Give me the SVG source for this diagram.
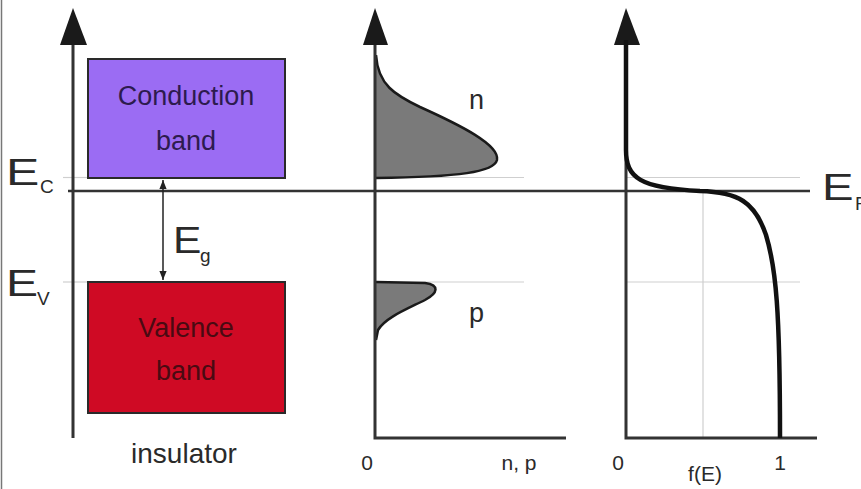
<svg xmlns="http://www.w3.org/2000/svg" width="861" height="489" viewBox="0 0 861 489">
<style>
text{font-family:"Liberation Sans",Arial,sans-serif;fill:#2a2a2a}
.ax{stroke:#333;stroke-width:3;fill:none}
.thin{stroke:#cfcfcf;stroke-width:1.2;fill:none}
.head{fill:#1a1a1a}
.big{font-size:37px}
.sub{font-size:19px}
.lbl{font-size:27px}
.num{font-size:21px}
</style>
<defs>
<marker id="ah" viewBox="0 0 10 10" refX="10" refY="5" markerWidth="9" markerHeight="9" markerUnits="userSpaceOnUse" orient="auto-start-reverse">
<path d="M0,1 L10,5 L0,9 z" fill="#222"/>
</marker>
</defs>
<rect x="0" y="0" width="861" height="489" fill="#fff"/>
<line x1="1.5" y1="0" x2="1.5" y2="489" stroke="#777" stroke-width="1.5"/>

<g id="connectors">
<line class="thin" x1="63" y1="177.5" x2="88" y2="177.5"/>
<line class="thin" x1="63" y1="282" x2="88" y2="282"/>
<line class="thin" x1="376" y1="177.5" x2="524" y2="177.5"/>
<line class="thin" x1="376" y1="282" x2="524" y2="282"/>
<line class="thin" x1="626" y1="177.5" x2="800" y2="177.5"/>
<line class="thin" x1="626" y1="282" x2="800" y2="282"/>
<line class="thin" x1="703" y1="191" x2="703" y2="438"/>
<line x1="68" y1="191" x2="810" y2="191" stroke="#333" stroke-width="2.5"/>
<line x1="163" y1="180" x2="163" y2="280" stroke="#222" stroke-width="1.5" marker-start="url(#ah)" marker-end="url(#ah)"/>
</g>

<g id="axis-left">
<line class="ax" x1="73" y1="40" x2="73" y2="438"/>
<polygon class="head" points="73,8 60,45 87,45"/>
</g>

<g id="conduction-band">
<rect x="88" y="59" width="197" height="119" fill="#9b6cf3" stroke="#2a2a2a" stroke-width="2"/>
<text class="lbl" x="186" y="105" text-anchor="middle" style="fill:#2d1b4e">Conduction</text>
<text class="lbl" x="186" y="150" text-anchor="middle" style="fill:#2d1b4e">band</text>
</g>

<g id="valence-band">
<rect x="88" y="282" width="197" height="131" fill="#cf0a24" stroke="#2a2a2a" stroke-width="2"/>
<text class="lbl" x="186" y="337" text-anchor="middle" style="fill:#4a0a12">Valence</text>
<text class="lbl" x="186" y="380" text-anchor="middle" style="fill:#4a0a12">band</text>
</g>

<g id="label-Ec">
<text class="big" transform="translate(6,185) scale(1.35,1)">E</text>
<text class="sub" x="40" y="193">C</text>
</g>
<g id="label-Ev">
<text class="big" transform="translate(6,296) scale(1.3,1)">E</text>
<text class="sub" x="37" y="305">V</text>
</g>
<g id="label-Eg">
<text class="big" font-size="40" transform="translate(173,253) scale(1.15,1)">E</text>
<text class="sub" x="200" y="262">g</text>
</g>
<g id="label-Ef">
<text class="big" transform="translate(822,200) scale(1.28,1)">E</text>
<text class="sub" x="855" y="210">F</text>
</g>

<g id="insulator-label">
<text x="184" y="463" text-anchor="middle" font-size="28">insulator</text>
</g>

<g id="np-plot">
<path d="M376,55 C378,85 395,95 420,107 C460,125 500,145 497,160 C494,172 460,177 376,178 Z" fill="#7a7a7a"/>
<path d="M376,55 C378,85 395,95 420,107 C460,125 500,145 497,160 C494,172 460,177 376,178" fill="none" stroke="#1a1a1a" stroke-width="2.5"/>
<path d="M376,282 L425,283 C440,285 438,293 425,300 C405,310 385,318 378,330 L376,340 Z" fill="#7a7a7a"/>
<path d="M376,282 L425,283 C440,285 438,293 425,300 C405,310 385,318 378,330 L376,340" fill="none" stroke="#1a1a1a" stroke-width="2.5"/>
<polyline class="ax" points="375,40 375,438 566,438"/>
<polygon class="head" points="375,8 363,45 388,45"/>
<text class="lbl" x="469" y="109">n</text>
<text class="lbl" x="469" y="322">p</text>
<text class="num" x="367" y="470" text-anchor="middle">0</text>
<text class="num" x="519" y="470" text-anchor="middle">n, p</text>
</g>

<g id="fE-plot">
<polyline class="ax" points="626,40 626,438 817,438"/>
<polygon class="head" points="626,8 614,45 640,45"/>
<path d="M626,40 L626,150 C626,178 640,188 700,191 C738,192 755,202 766,235 C776,268 780,310 780,438" fill="none" stroke="#111" stroke-width="4.5"/>
<text class="num" x="618" y="470" text-anchor="middle">0</text>
<text class="num" x="780" y="470" text-anchor="middle">1</text>
<text class="num" x="705" y="481" text-anchor="middle">f(E)</text>
</g>
</svg>
